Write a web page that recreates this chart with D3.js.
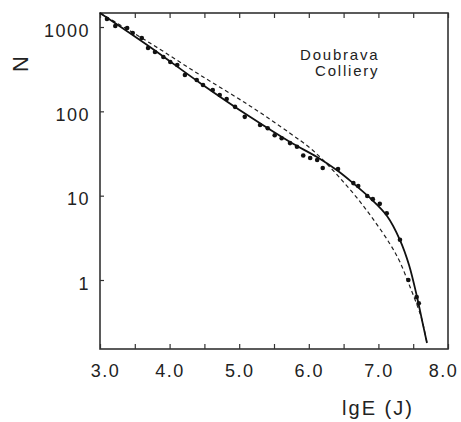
<!DOCTYPE html>
<html>
<head>
<meta charset="utf-8">
<script src="https://cdn.jsdelivr.net/npm/d3@7"></script>
<style>
  body { margin: 0; background: #fff; }
  text { font-family: "Liberation Sans", Arial, sans-serif; fill: #222; }
</style>
</head>
<body>
<svg id="chart" width="461" height="422"></svg>
<script>
// observed points (lgE, N)
var dotE = [3.10, 3.22, 3.39, 3.47, 3.60, 3.69, 3.79, 3.91, 4.01, 4.11, 4.22, 4.39, 4.48,
    4.62, 4.72, 4.82, 4.94, 5.08, 5.30, 5.41, 5.51, 5.61, 5.73, 5.83, 5.92, 6.02, 6.12,
    6.20, 6.42, 6.64, 6.71, 6.84, 6.92, 7.02, 7.12, 7.31, 7.43, 7.55, 7.58]
var dotN = [1245, 1028, 973, 849, 741, 564, 506, 441, 385, 354, 270, 235, 205,
    179, 156, 140, 113, 86, 69, 63, 52, 48, 42, 38, 30, 28, 26.5,
    21.3, 20.7, 14.1, 13.0, 9.9, 9.1, 8.0, 6.2, 3.0, 1.0, 0.63, 0.53]

// solid fit
var solidE = [3.00, 3.718, 4.437, 5.155, 5.730, 6.118, 6.420, 6.635, 6.879, 7.124, 7.310, 7.440, 7.555, 7.626, 7.698]
var solidN = [1466, 580, 217, 86, 43.3, 28.7, 19.6, 14.1, 9.4, 5.74, 2.98, 1.51, 0.63, 0.336, 0.179]

// dashed fit
var dashE = [3.00, 3.718, 4.437, 5.155, 5.730, 6.017, 6.204, 6.448, 6.693, 6.922, 7.167, 7.310, 7.454, 7.569, 7.626, 7.698]
var dashN = [1466, 646, 270, 116, 55, 36.8, 26.5, 16.2, 9.4, 5.3, 2.67, 1.63, 0.83, 0.47, 0.336, 0.179]

var xTicks = [3, 3.5, 4, 4.5, 5, 5.5, 6, 6.5, 7, 7.5, 8]
var yTicks = [1, 10, 100, 1000]

var svg = d3.select("#chart")
const margin = { top: 13, right: 13, bottom: 73, left: 100 }
const width = 461 - margin.left - margin.right,
    height = 422 - margin.top - margin.bottom

const g = svg.append("g").attr("transform", `translate(${margin.left}, ${margin.top})`)

const x = d3.scaleLinear().domain([3, 8]).range([0, width])
const y = d3.scaleLog().domain([0.152, 1466]).range([height, 0])

// axes
const bottom = g.append("g").attr("transform", `translate(0, ${height})`)
    .call(d3.axisBottom(x).tickValues(xTicks).tickSizeInner(-5).tickSizeOuter(0).tickPadding(15)
        .tickFormat(d => d % 1 === 0 ? d.toFixed(1) : ""))
bottom.selectAll("text")
    .style("font-size", "18px").style("letter-spacing", "1.5px")
    .attr("dx", d => d === 3 ? 5 : d === 8 ? -5 : 0)

g.append("g")
    .call(d3.axisTop(x).tickValues(xTicks).tickSizeInner(-5).tickSizeOuter(0).tickFormat(""))

const left = g.append("g")
    .call(d3.axisLeft(y).tickValues(yTicks).tickSizeInner(-4).tickSizeOuter(0).tickPadding(10)
        .tickFormat(d3.format("d")))
left.selectAll("text")
    .style("font-size", "18px").style("letter-spacing", "1.5px")
    .attr("dy", "0.5em")

g.selectAll(".domain").remove()
g.selectAll(".tick line").attr("stroke", "#333").attr("stroke-width", 1.2)
g.selectAll(".tick text").attr("fill", "#222")

g.append("rect")
    .attr("width", width).attr("height", height)
    .attr("fill", "none").attr("stroke", "#333").attr("stroke-width", 1.6)

// curves
var line = d3.line()
    .x(d => x(d[0]))
    .y(d => y(d[1]))
    .curve(d3.curveCatmullRom.alpha(0.5))

g.append("path")
    .datum(dashE.map((e, i) => [e, dashN[i]]))
    .attr("d", line)
    .attr("fill", "none").attr("stroke", "#222").attr("stroke-width", 1.2)
    .attr("stroke-dasharray", "4,3")

g.append("path")
    .datum(solidE.map((e, i) => [e, solidN[i]]))
    .attr("d", line)
    .attr("fill", "none").attr("stroke", "#111").attr("stroke-width", 1.8)

g.selectAll("circle")
    .data(dotE.map((e, i) => [e, dotN[i]]))
    .join("circle")
    .attr("cx", d => x(d[0]))
    .attr("cy", d => y(d[1]))
    .attr("r", 2.3)
    .attr("fill", "#111")

// labels
svg.append("text")
    .attr("transform", "translate(28, 64) rotate(-90)")
    .attr("text-anchor", "middle")
    .style("font-size", "22px")
    .text("N")

svg.append("text")
    .attr("x", 378).attr("y", 415)
    .attr("text-anchor", "middle")
    .style("font-size", "20px").style("letter-spacing", "2px")
    .text("lgE (J)")

svg.append("text")
    .attr("x", 300).attr("y", 60)
    .style("font-size", "15px").style("letter-spacing", "1.8px")
    .text("Doubrava")

svg.append("text")
    .attr("x", 315).attr("y", 76)
    .style("font-size", "15px").style("letter-spacing", "1.8px")
    .text("Colliery")
</script>
</body>
</html>
